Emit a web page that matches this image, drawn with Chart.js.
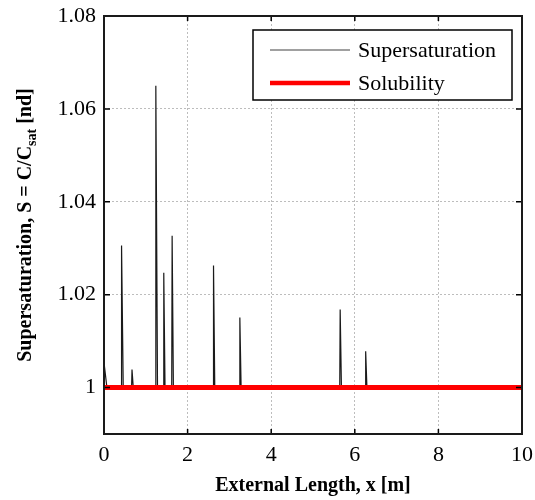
<!DOCTYPE html>
<html>
<head>
<meta charset="utf-8">
<script src="https://cdn.jsdelivr.net/npm/chart.js@4.4.0/dist/chart.umd.min.js"></script>
<style>
  html, body { margin: 0; padding: 0; background: #fff; }
</style>
</head>
<body>
<canvas id="myChart" width="535" height="500"></canvas>
<script>
// data
const superX = [0, 0.07, 0.41, 0.42, 0.46, 0.66, 0.67, 0.70, 1.23, 1.24, 1.28, 1.42, 1.43, 1.46,
                1.62, 1.63, 1.66, 2.61, 2.62, 2.65, 3.24, 3.25, 3.28, 5.64, 5.65, 5.68, 6.25, 6.26, 6.29, 10];
const superY = [1.0054, 1, 1, 1.0306, 1, 1, 1.0039, 1, 1, 1.065, 1, 1, 1.0247, 1,
                1, 1.0327, 1, 1, 1.0263, 1, 1, 1.0151, 1, 1, 1.0168, 1, 1, 1.0078, 1, 1];
const solX = [0, 10];
const solY = [1, 1];

const xTicks = [0, 2, 4, 6, 8, 10];
const xTickLabels = ['0', '2', '4', '6', '8', '10'];
const yTicks = [1, 1.02, 1.04, 1.06, 1.08];
const yTickLabels = ['1', '1.02', '1.04', '1.06', '1.08'];

const serif = "'Liberation Serif', 'Times New Roman', serif";

// y title with subscript, inward ticks, frame and legend box
const matlabLook = {
  id: 'matlabLook',
  afterDraw(chart) {
    const ctx = chart.ctx;
    const a = chart.chartArea;
    const xs = chart.scales.x, ys = chart.scales.y;
    ctx.save();

    // inward tick marks
    ctx.strokeStyle = '#000';
    ctx.lineWidth = 1.5;
    ctx.beginPath();
    xTicks.forEach(v => {
      const px = xs.getPixelForValue(v);
      ctx.moveTo(px, a.bottom); ctx.lineTo(px, a.bottom - 5);
      ctx.moveTo(px, a.top); ctx.lineTo(px, a.top + 5);
    });
    yTicks.forEach(v => {
      const py = ys.getPixelForValue(v);
      ctx.moveTo(a.left, py); ctx.lineTo(a.left + 6, py);
      ctx.moveTo(a.right, py); ctx.lineTo(a.right - 6, py);
    });
    ctx.stroke();

    // frame
    ctx.lineWidth = 2;
    ctx.strokeStyle = '#1a1a1a';
    ctx.strokeRect(a.left, a.top, a.right - a.left, a.bottom - a.top);

    // legend
    const lx = 253, ly = 30, lw = 259, lh = 70;
    ctx.fillStyle = '#fff';
    ctx.fillRect(lx, ly, lw, lh);
    ctx.lineWidth = 1.5;
    ctx.strokeStyle = '#000';
    ctx.strokeRect(lx, ly, lw, lh);
    const rows = [
      { ds: chart.data.datasets[0], y: 50, color: '#808080', w: 1.5 },
      { ds: chart.data.datasets[1], y: 83, color: '#ff0000', w: 4.5 }
    ];
    ctx.font = '22px ' + serif;
    ctx.textBaseline = 'middle';
    ctx.textAlign = 'left';
    rows.forEach(r => {
      ctx.strokeStyle = r.color;
      ctx.lineWidth = r.w;
      ctx.beginPath();
      ctx.moveTo(270, r.y); ctx.lineTo(350, r.y);
      ctx.stroke();
      ctx.fillStyle = '#000';
      ctx.fillText(r.ds.label, 358, r.y + 1);
    });

    // y axis title: Supersaturation, S = C/C_sat [nd]
    const big = 'bold 20px ' + serif, small = 'bold 14px ' + serif;
    const p1 = 'Supersaturation, S = C/C', p2 = 'sat', p3 = ' [nd]';
    ctx.font = big; const w1 = ctx.measureText(p1).width, w3 = ctx.measureText(p3).width;
    ctx.font = small; const w2 = ctx.measureText(p2).width;
    const total = w1 + w2 + w3;
    ctx.translate(24, (a.top + a.bottom) / 2);
    ctx.rotate(-Math.PI / 2);
    ctx.fillStyle = '#000';
    ctx.textBaseline = 'alphabetic';
    let cx = -total / 2;
    ctx.font = big; ctx.fillText(p1, cx, 7); cx += w1;
    ctx.font = small; ctx.fillText(p2, cx, 12); cx += w2;
    ctx.font = big; ctx.fillText(p3, cx, 7);

    ctx.restore();
  }
};

const data = {
  datasets: [{
    label: 'Supersaturation',
    data: superX.map((x, i) => ({ x: x, y: superY[i] })),
    borderColor: '#1a1a1a',
    borderWidth: 1.2,
    pointRadius: 0,
    tension: 0,
    order: 2
  },
  {
    label: 'Solubility',
    data: solX.map((x, i) => ({ x: x, y: solY[i] })),
    borderColor: '#ff0000',
    borderWidth: 5,
    pointRadius: 0,
    order: 1
  }]
};

const config = {
  type: 'line',
  data,
  options: {
    responsive: false,
    animation: false,
    layout: { padding: { top: 16, right: 13, left: 0, bottom: 0 } },
    plugins: {
      legend: { display: false },
      tooltip: { enabled: false }
    },
    scales: {
      x: {
        type: 'linear',
        min: 0,
        max: 10,
        afterBuildTicks: s => { s.ticks = xTicks.map(v => ({ value: v })); },
        afterFit: s => { s.height = 66; s.paddingLeft = 0; s.paddingRight = 0; },
        ticks: {
          font: { family: serif, size: 22 },
          color: '#000',
          padding: 8,
          maxRotation: 0,
          callback: (v, i) => xTickLabels[i]
        },
        grid: { color: '#bdbdbd', lineWidth: 1, drawTicks: false },
        border: { display: false, dash: [2, 2] },
        title: {
          display: true,
          text: 'External Length, x [m]',
          color: '#000',
          font: { family: serif, size: 20, weight: 'bold' },
          padding: { top: 0, bottom: 2 }
        }
      },
      y: {
        min: 0.99,
        max: 1.08,
        afterBuildTicks: s => { s.ticks = yTicks.map(v => ({ value: v })); },
        afterFit: s => { s.width = 104; s.paddingTop = 0; s.paddingBottom = 0; },
        ticks: {
          font: { family: serif, size: 22 },
          color: '#000',
          padding: 8,
          callback: (v, i) => yTickLabels[i]
        },
        grid: { color: '#bdbdbd', lineWidth: 1, drawTicks: false },
        border: { display: false, dash: [2, 2] }
      }
    }
  },
  plugins: [matlabLook]
};

const myChart = new Chart(document.getElementById('myChart'), config);
</script>
</body>
</html>
